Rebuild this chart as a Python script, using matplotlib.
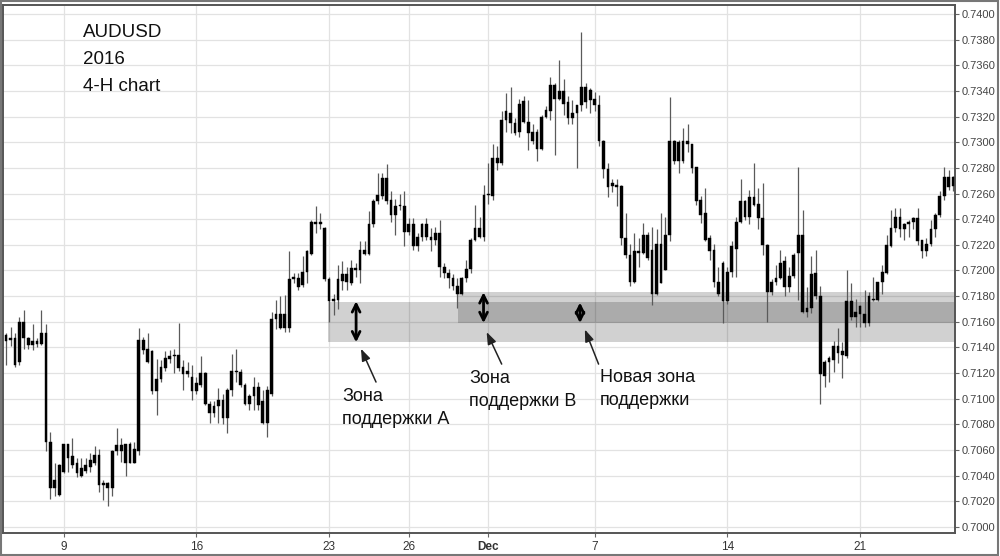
import numpy as np
import matplotlib
matplotlib.use("Agg")
import matplotlib.pyplot as plt
from matplotlib import font_manager as fm
from matplotlib.patches import Rectangle

# AUDUSD 4-H candles (open, high, low, close)
opens = [
    0.7145, 0.7147, 0.7147, 0.7129, 0.7160, 0.7147, 0.7142, 0.7145, 0.7143, 0.7151,
    0.7066, 0.7030, 0.7025, 0.7043, 0.7065, 0.7055, 0.7050, 0.7040, 0.7044, 0.7047,
    0.7050, 0.7056, 0.7033, 0.7034, 0.7030, 0.7059, 0.7064, 0.7065, 0.7050, 0.7061,
    0.7059, 0.7146, 0.7139, 0.7137, 0.7106, 0.7115, 0.7124, 0.7131, 0.7133, 0.7134,
    0.7125, 0.7119, 0.7117, 0.7106, 0.7111, 0.7120, 0.7096, 0.7089, 0.7094, 0.7099,
    0.7085, 0.7107, 0.7122, 0.7121, 0.7111, 0.7096, 0.7102, 0.7109, 0.7098, 0.7081,
    0.7104, 0.7162, 0.7166, 0.7166, 0.7155, 0.7193, 0.7194, 0.7189, 0.7199, 0.7213,
    0.7238, 0.7236, 0.7233, 0.7193, 0.7176, 0.7177, 0.7192, 0.7197, 0.7190, 0.7202,
    0.7200, 0.7216, 0.7213, 0.7236, 0.7254, 0.7258, 0.7272, 0.7255, 0.7243, 0.7250,
    0.7250, 0.7230, 0.7236, 0.7219, 0.7226, 0.7236, 0.7226, 0.7224, 0.7229, 0.7203,
    0.7198, 0.7194, 0.7188, 0.7182, 0.7194, 0.7201, 0.7224, 0.7233, 0.7226, 0.7259,
    0.7258, 0.7288, 0.7284, 0.7317, 0.7323, 0.7315, 0.7308, 0.7332, 0.7316, 0.7308,
    0.7308, 0.7295, 0.7320, 0.7324, 0.7345, 0.7334, 0.7340, 0.7331, 0.7319, 0.7323,
    0.7329, 0.7343, 0.7333, 0.7334, 0.7329, 0.7301, 0.7279, 0.7266, 0.7267, 0.7266,
    0.7225, 0.7212, 0.7191, 0.7215, 0.7214, 0.7228, 0.7216, 0.7182, 0.7221, 0.7200,
    0.7228, 0.7301, 0.7285, 0.7285, 0.7301, 0.7299, 0.7281, 0.7255, 0.7245, 0.7225,
    0.7216, 0.7191, 0.7206, 0.7176, 0.7199, 0.7217, 0.7238, 0.7254, 0.7242, 0.7257,
    0.7252, 0.7241, 0.7220, 0.7183, 0.7191, 0.7194, 0.7207, 0.7187, 0.7196, 0.7214,
    0.7228, 0.7168, 0.7171, 0.7198, 0.7180, 0.7118, 0.7129, 0.7130, 0.7141, 0.7137,
    0.7133, 0.7176, 0.7164, 0.7172, 0.7166, 0.7159, 0.7178, 0.7177, 0.7191, 0.7198,
    0.7219, 0.7233, 0.7242, 0.7232, 0.7236, 0.7238, 0.7241, 0.7224, 0.7215, 0.7221,
    0.7232, 0.7243, 0.7258, 0.7273, 0.7266,
]
highs = [
    0.7151, 0.7156, 0.7151, 0.7164, 0.7169, 0.7148, 0.7158, 0.7147, 0.7169, 0.7158,
    0.7074, 0.7050, 0.7049, 0.7065, 0.7065, 0.7069, 0.7054, 0.7054, 0.7054, 0.7058,
    0.7063, 0.7061, 0.7037, 0.7035, 0.7060, 0.7077, 0.7069, 0.7065, 0.7066, 0.7066,
    0.7155, 0.7148, 0.7151, 0.7138, 0.7131, 0.7130, 0.7137, 0.7138, 0.7139, 0.7159,
    0.7130, 0.7129, 0.7126, 0.7117, 0.7133, 0.7121, 0.7098, 0.7098, 0.7108, 0.7104,
    0.7108, 0.7135, 0.7139, 0.7123, 0.7112, 0.7104, 0.7117, 0.7113, 0.7107, 0.7110,
    0.7168, 0.7177, 0.7180, 0.7181, 0.7215, 0.7198, 0.7198, 0.7211, 0.7216, 0.7239,
    0.7250, 0.7245, 0.7234, 0.7195, 0.7182, 0.7204, 0.7207, 0.7203, 0.7208, 0.7206,
    0.7223, 0.7223, 0.7246, 0.7256, 0.7276, 0.7276, 0.7283, 0.7262, 0.7256, 0.7260,
    0.7262, 0.7241, 0.7241, 0.7229, 0.7237, 0.7241, 0.7233, 0.7234, 0.7239, 0.7206,
    0.7201, 0.7197, 0.7194, 0.7195, 0.7208, 0.7225, 0.7251, 0.7242, 0.7267, 0.7284,
    0.7299, 0.7297, 0.7324, 0.7338, 0.7343, 0.7319, 0.7334, 0.7336, 0.7333, 0.7314,
    0.7310, 0.7321, 0.7328, 0.7351, 0.7346, 0.7364, 0.7349, 0.7336, 0.7333, 0.7329,
    0.7386, 0.7346, 0.7342, 0.7339, 0.7337, 0.7302, 0.7284, 0.7271, 0.7271, 0.7267,
    0.7245, 0.7221, 0.7229, 0.7225, 0.7237, 0.7230, 0.7234, 0.7232, 0.7245, 0.7242,
    0.7335, 0.7302, 0.7302, 0.7311, 0.7314, 0.7299, 0.7281, 0.7258, 0.7264, 0.7228,
    0.7221, 0.7203, 0.7207, 0.7203, 0.7223, 0.7242, 0.7271, 0.7255, 0.7263, 0.7284,
    0.7264, 0.7268, 0.7221, 0.7193, 0.7204, 0.7216, 0.7211, 0.7203, 0.7214, 0.7281,
    0.7247, 0.7187, 0.7211, 0.7216, 0.7188, 0.7130, 0.7133, 0.7145, 0.7155, 0.7144,
    0.7200, 0.7190, 0.7178, 0.7173, 0.7185, 0.7183, 0.7195, 0.7191, 0.7204, 0.7228,
    0.7247, 0.7249, 0.7249, 0.7237, 0.7239, 0.7242, 0.7249, 0.7224, 0.7225, 0.7239,
    0.7245, 0.7262, 0.7281, 0.7278, 0.7274,
]
lows = [
    0.7126, 0.7141, 0.7125, 0.7126, 0.7139, 0.7139, 0.7138, 0.7140, 0.7142, 0.7059,
    0.7022, 0.7024, 0.7024, 0.7042, 0.7043, 0.7046, 0.7039, 0.7039, 0.7042, 0.7043,
    0.7048, 0.7027, 0.7021, 0.7016, 0.7024, 0.7056, 0.7051, 0.7040, 0.7050, 0.7050,
    0.7056, 0.7135, 0.7128, 0.7104, 0.7087, 0.7113, 0.7122, 0.7128, 0.7120, 0.7122,
    0.7107, 0.7117, 0.7099, 0.7104, 0.7109, 0.7095, 0.7081, 0.7086, 0.7081, 0.7080,
    0.7073, 0.7102, 0.7113, 0.7109, 0.7095, 0.7091, 0.7091, 0.7091, 0.7080, 0.7070,
    0.7102, 0.7154, 0.7154, 0.7152, 0.7152, 0.7190, 0.7185, 0.7187, 0.7190, 0.7212,
    0.7229, 0.7232, 0.7192, 0.7160, 0.7165, 0.7170, 0.7185, 0.7185, 0.7189, 0.7195,
    0.7190, 0.7212, 0.7212, 0.7234, 0.7252, 0.7256, 0.7252, 0.7238, 0.7228, 0.7247,
    0.7219, 0.7228, 0.7216, 0.7215, 0.7223, 0.7224, 0.7215, 0.7220, 0.7195, 0.7194,
    0.7186, 0.7185, 0.7171, 0.7181, 0.7191, 0.7198, 0.7223, 0.7225, 0.7223, 0.7252,
    0.7255, 0.7278, 0.7282, 0.7308, 0.7307, 0.7306, 0.7304, 0.7315, 0.7294, 0.7299,
    0.7285, 0.7294, 0.7319, 0.7317, 0.7290, 0.7333, 0.7321, 0.7314, 0.7314, 0.7280,
    0.7324, 0.7327, 0.7323, 0.7324, 0.7297, 0.7272, 0.7257, 0.7261, 0.7250, 0.7220,
    0.7210, 0.7188, 0.7190, 0.7203, 0.7213, 0.7208, 0.7173, 0.7181, 0.7190, 0.7200,
    0.7223, 0.7283, 0.7276, 0.7284, 0.7292, 0.7276, 0.7251, 0.7237, 0.7223, 0.7208,
    0.7187, 0.7180, 0.7159, 0.7174, 0.7195, 0.7195, 0.7237, 0.7239, 0.7236, 0.7250,
    0.7232, 0.7212, 0.7160, 0.7181, 0.7189, 0.7193, 0.7180, 0.7183, 0.7194, 0.7177,
    0.7167, 0.7164, 0.7167, 0.7178, 0.7096, 0.7109, 0.7113, 0.7121, 0.7128, 0.7116,
    0.7132, 0.7161, 0.7156, 0.7156, 0.7156, 0.7157, 0.7176, 0.7176, 0.7182, 0.7197,
    0.7218, 0.7230, 0.7226, 0.7224, 0.7226, 0.7232, 0.7220, 0.7210, 0.7211, 0.7219,
    0.7226, 0.7242, 0.7255, 0.7263, 0.7262,
]
closes = [
    0.7150, 0.7146, 0.7126, 0.7160, 0.7147, 0.7142, 0.7145, 0.7143, 0.7151, 0.7066,
    0.7030, 0.7037, 0.7048, 0.7065, 0.7054, 0.7048, 0.7042, 0.7046, 0.7048, 0.7052,
    0.7056, 0.7033, 0.7034, 0.7030, 0.7059, 0.7064, 0.7059, 0.7050, 0.7065, 0.7050,
    0.7146, 0.7138, 0.7129, 0.7106, 0.7115, 0.7125, 0.7132, 0.7133, 0.7134, 0.7124,
    0.7119, 0.7122, 0.7106, 0.7112, 0.7120, 0.7096, 0.7089, 0.7094, 0.7099, 0.7085,
    0.7107, 0.7122, 0.7121, 0.7111, 0.7096, 0.7102, 0.7109, 0.7095, 0.7081, 0.7107,
    0.7162, 0.7166, 0.7155, 0.7155, 0.7193, 0.7195, 0.7187, 0.7199, 0.7215, 0.7238,
    0.7236, 0.7238, 0.7193, 0.7176, 0.7178, 0.7193, 0.7197, 0.7191, 0.7202, 0.7200,
    0.7216, 0.7213, 0.7236, 0.7254, 0.7259, 0.7272, 0.7254, 0.7243, 0.7250, 0.7251,
    0.7230, 0.7236, 0.7219, 0.7226, 0.7236, 0.7226, 0.7224, 0.7229, 0.7203, 0.7198,
    0.7194, 0.7188, 0.7182, 0.7194, 0.7201, 0.7224, 0.7233, 0.7226, 0.7259, 0.7260,
    0.7288, 0.7284, 0.7317, 0.7324, 0.7315, 0.7307, 0.7330, 0.7316, 0.7307, 0.7301,
    0.7295, 0.7320, 0.7325, 0.7345, 0.7334, 0.7340, 0.7330, 0.7319, 0.7323, 0.7329,
    0.7343, 0.7331, 0.7341, 0.7329, 0.7301, 0.7279, 0.7265, 0.7268, 0.7265, 0.7225,
    0.7212, 0.7191, 0.7215, 0.7214, 0.7228, 0.7210, 0.7182, 0.7221, 0.7190, 0.7228,
    0.7301, 0.7285, 0.7300, 0.7301, 0.7299, 0.7280, 0.7254, 0.7243, 0.7224, 0.7215,
    0.7191, 0.7182, 0.7176, 0.7199, 0.7219, 0.7238, 0.7254, 0.7242, 0.7257, 0.7251,
    0.7241, 0.7220, 0.7183, 0.7191, 0.7194, 0.7206, 0.7187, 0.7196, 0.7212, 0.7228,
    0.7168, 0.7171, 0.7197, 0.7180, 0.7119, 0.7129, 0.7132, 0.7141, 0.7136, 0.7134,
    0.7176, 0.7164, 0.7168, 0.7166, 0.7159, 0.7180, 0.7177, 0.7191, 0.7199, 0.7220,
    0.7233, 0.7242, 0.7232, 0.7236, 0.7238, 0.7241, 0.7223, 0.7215, 0.7221, 0.7232,
    0.7243, 0.7258, 0.7273, 0.7265, 0.7273,
]

# date ticks (candle index) and labels
tick_idx = [13, 43, 73, 91, 109, 133, 163, 193]
tick_labels = ["9", "16", "23", "26", "Dec", "7", "14", "21"]

# support zones: (first candle, low price, high price)
zone_a = (72.8, 0.7144, 0.71757)
zone_b = (102.1, 0.71588, 0.7183)

avail = {f.name for f in fm.fontManager.ttflist}
cond = "Liberation Sans Narrow" if "Liberation Sans Narrow" in avail else "Liberation Sans"
plt.rcParams["font.family"] = [cond, "DejaVu Sans"]

W, H = 1000, 556
fig = plt.figure(figsize=(W / 100, H / 100), dpi=100)
ax = fig.add_axes([3 / W, 1 - 533 / H, 952 / W, 528 / H])

n = len(opens)
x = np.arange(n)
o = np.array(opens)
c = np.array(closes)
lo = np.minimum(o, c)
hgt = np.maximum(np.abs(c - o), 0.00008)

ax.vlines(x, lows, highs, color="#5a5a5a", lw=0.9, zorder=3)
ax.bar(x, hgt, bottom=lo, width=0.62, color="black", edgecolor="black", lw=0.3, zorder=4)

xmax = n - 0.55
for start, p0, p1 in (zone_a, zone_b):
    ax.add_patch(Rectangle((start, p0), xmax - start, p1 - p0,
                           facecolor="black", alpha=0.18, lw=0, zorder=2))

ax.set_xlim(-0.7, xmax)
ax.set_ylim(0.69953, 0.74070)

yt = np.arange(0.7000, 0.74001, 0.002)
ax.set_yticks(yt)
ax.set_yticklabels([f"{v:.4f}" for v in yt])
ax.yaxis.tick_right()
ax.set_xticks(tick_idx)
ax.set_xticklabels(tick_labels)
for lab in ax.get_xticklabels():
    if lab.get_text() == "Dec":
        lab.set_fontweight("bold")

ax.tick_params(axis="y", which="both", length=3, width=0.8, color="#666",
               labelsize=8, labelcolor="#444", pad=2, direction="out")
ax.tick_params(axis="x", length=3, width=0.8, color="#666",
               labelsize=8.5, labelcolor="#333", pad=3, direction="out")
ax.grid(True, color="#e2e2e2", lw=0.9)
ax.set_axisbelow(True)
for sp in ax.spines.values():
    sp.set_color("#555")
    sp.set_linewidth(1.4)

# double-headed arrows across the zones
for xi, p0, p1 in [(79.1, 0.7144, 0.7176), (107.9, 0.7159, 0.7183), (129.7, 0.7159, 0.7175)]:
    ax.annotate("", xy=(xi, p1), xytext=(xi, p0),
                arrowprops=dict(arrowstyle="<->", lw=2.0, color="black",
                                mutation_scale=14, shrinkA=0, shrinkB=0), zorder=6)

# thin pointers from the labels
for (x0, y0), (x1, y1) in [((83.6, 0.7113), (80.2, 0.7139)),
                           ((112.0, 0.7127), (108.6, 0.7152)),
                           ((133.9, 0.7127), (130.8, 0.7154))]:
    ax.annotate("", xy=(x1, y1), xytext=(x0, y0),
                arrowprops=dict(arrowstyle="-|>,head_length=0.6,head_width=0.22", lw=1.1,
                                color="#222", mutation_scale=12, shrinkA=0, shrinkB=0),
                zorder=6)

tsize = 13
ax.text(75.9, 0.70982, "Зона", fontsize=tsize, va="baseline", color="#111")
ax.text(75.9, 0.70800, "поддержки А", fontsize=tsize, va="baseline", color="#111")
ax.text(104.6, 0.71120, "Зона", fontsize=tsize, va="baseline", color="#111")
ax.text(104.6, 0.70946, "поддержки В", fontsize=tsize, va="baseline", color="#111")
ax.text(134.2, 0.71130, "Новая зона", fontsize=tsize, va="baseline", color="#111")
ax.text(134.2, 0.70949, "поддержки", fontsize=tsize, va="baseline", color="#111")

# title block, top left
for txt, yb in [("AUDUSD", 37.3), ("2016", 63.9), ("4-H chart", 91.3)]:
    fig.text(82.7 / W, 1 - yb / H, txt, fontsize=13.5, va="baseline", ha="left", color="#111")

fig.patches.append(Rectangle((0.001, 0.002), 0.997, 0.996, transform=fig.transFigure,
                             fill=False, edgecolor="#777", lw=1.5))

fig.savefig("out.png", dpi=100)
